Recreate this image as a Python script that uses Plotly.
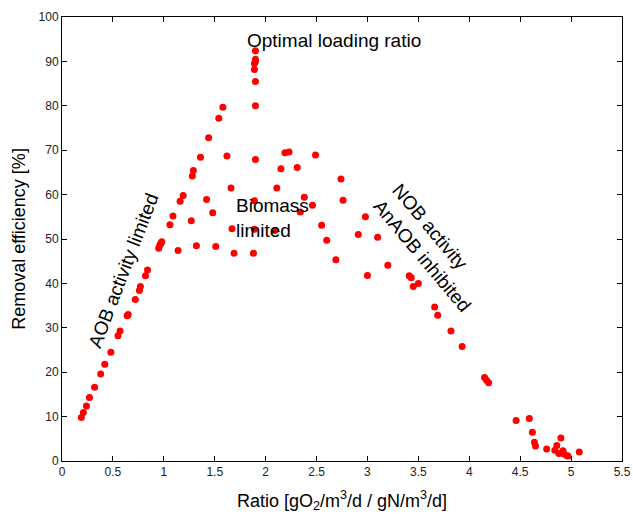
import plotly.graph_objects as go

ratio = [0.19, 0.21, 0.24, 0.27, 0.32, 0.38, 0.42, 0.48, 0.55, 0.57, 0.64, 0.65, 0.72, 0.76, 0.77,
         0.82, 0.84, 0.95, 0.96, 0.97, 0.98, 1.06, 1.09, 1.14, 1.16, 1.19, 1.27, 1.28, 1.29, 1.32,
         1.36, 1.42, 1.44, 1.48, 1.51, 1.54, 1.58, 1.62, 1.66, 1.67, 1.69, 1.88, 1.89, 1.89, 1.90,
         1.90, 1.90, 1.89, 1.89, 1.90, 1.90, 1.90, 2.09, 2.11, 2.15, 2.19, 2.23, 2.31, 2.34, 2.38,
         2.46, 2.49, 2.55, 2.60, 2.69, 2.74, 2.76, 2.91, 2.98, 3.00, 3.10, 3.20, 3.41, 3.43, 3.45,
         3.50, 3.66, 3.69, 3.82, 3.93, 4.15, 4.17, 4.19, 4.46, 4.59, 4.62, 4.64, 4.65, 4.76, 4.84,
         4.86, 4.88, 4.90, 4.92, 4.93, 4.96, 4.97, 5.08]
efficiency = [9.8, 10.9, 12.4, 14.3, 16.6, 19.6, 21.8, 24.5, 28.2, 29.3, 32.7, 33.0, 36.4, 38.4, 39.3,
              41.7, 43.0, 47.9, 48.6, 49.0, 49.4, 53.2, 55.2, 47.4, 58.5, 59.8, 54.1, 64.2, 65.4, 48.5,
              68.4, 58.9, 72.8, 55.9, 48.3, 77.2, 79.7, 68.7, 61.5, 52.3, 46.8, 46.8, 52.2, 58.6, 67.9,
              80.0, 85.5, 88.2, 89.5, 90.0, 90.5, 92.4, 51.9, 61.5, 65.8, 69.4, 69.6, 66.1, 56.1, 59.4,
              57.6, 68.9, 53.1, 49.7, 45.3, 63.5, 58.7, 51.0, 55.0, 41.8, 50.4, 44.1, 41.7, 41.3, 39.3,
              40.0, 34.7, 32.8, 29.3, 25.8, 18.8, 18.2, 17.6, 9.1, 9.6, 6.5, 4.2, 3.4, 2.7, 2.4,
              3.5, 1.7, 5.2, 2.3, 1.6, 1.2, 1.1, 2.0]

x_ticks = [0, 0.5, 1, 1.5, 2, 2.5, 3, 3.5, 4, 4.5, 5, 5.5]
x_tick_labels = ["0", "0.5", "1", "1.5", "2", "2.5", "3", "3.5", "4", "4.5", "5", "5.5"]
y_ticks = [0, 10, 20, 30, 40, 50, 60, 70, 80, 90, 100]

FONT = "Liberation Sans, Arial, sans-serif"

fig = go.Figure()
fig.add_trace(go.Scatter(
    x=ratio, y=efficiency, mode="markers",
    marker=dict(color="#ff0000", size=7, line=dict(width=0)),
    showlegend=False,
))

ann_font = dict(family=FONT, size=19, color="black")
fig.add_annotation(x=2.67, y=94.8, text="Optimal loading ratio", showarrow=False, font=ann_font)
fig.add_annotation(x=1.69, y=54.8, text="Biomass<br>limited", showarrow=False, font=ann_font,
                   xanchor="left", align="left")
fig.add_annotation(x=0.60, y=43.0, text="AOB activity limited", showarrow=False, font=ann_font,
                   textangle=-69)
fig.add_annotation(x=3.63, y=48.0, text="NOB activity<br>AnAOB inhibited", showarrow=False,
                   font=ann_font, textangle=50, align="left")

axis_common = dict(
    showgrid=False, zeroline=False, showline=True, linecolor="black", linewidth=1,
    mirror="ticks", ticks="inside", ticklen=5, tickcolor="black", automargin=False,
    tickfont=dict(family=FONT, size=12, color="#222222"),
)

fig.update_xaxes(range=[0, 5.5], tickvals=x_ticks, ticktext=x_tick_labels,
                 title=dict(text="Ratio [gO<sub>2</sub>/m<sup>3</sup>/d / gN/m<sup>3</sup>/d]",
                            font=dict(family=FONT, size=18, color="black")),
                 **axis_common)
fig.update_yaxes(range=[0, 100], tickvals=y_ticks,
                 title=dict(text="Removal efficiency [%]", standoff=8,
                            font=dict(family=FONT, size=18, color="black")),
                 **axis_common)

fig.update_layout(
    width=633, height=514,
    margin=dict(l=62, r=11, t=17, b=53),
    plot_bgcolor="white", paper_bgcolor="white",
)

fig.write_html("out.html", config={"displayModeBar": False},
               post_script="document.body.style.margin='0';document.body.style.overflow='hidden';")
